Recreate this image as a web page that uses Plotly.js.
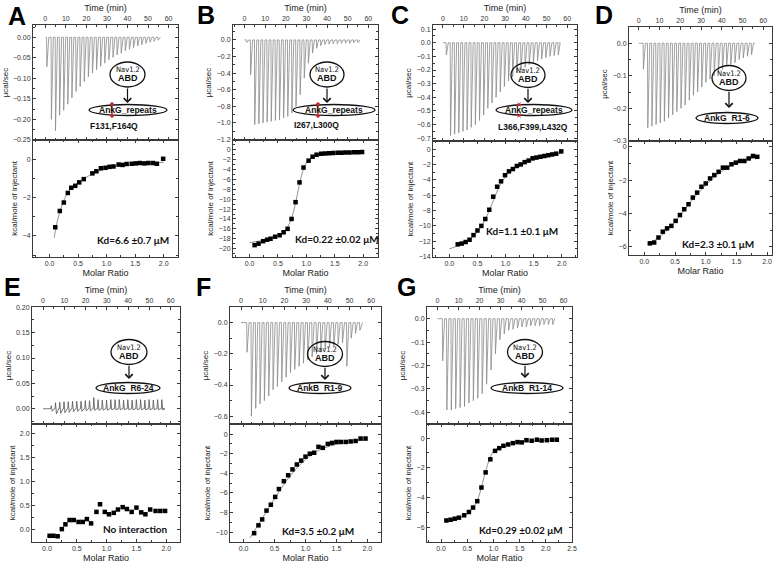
<!DOCTYPE html>
<html><head><meta charset="utf-8">
<script src="https://cdn.plot.ly/plotly-3.0.1.min.js"></script>
<style>body{margin:0;background:#fff}#p{width:777px;height:566px}</style>
</head><body><div id="p"></div>
<script>
// ---------------- DATA ----------------
// Raw ITC traces: injection times (min) and peak heights (µcal/sec)
const injTimeA=[0.6,2.8,4.8,6.8,8.8,10.8,12.8,14.8,16.8,18.8,20.8,22.8,24.8,26.8,28.8,30.8,32.8,34.8,36.8,38.8,40.8,42.8,44.8,46.8,48.8,50.8,52.8,54.8];
const peakA=[-0.072,-0.2,-0.228,-0.19,-0.178,-0.163,-0.148,-0.132,-0.12,-0.108,-0.096,-0.087,-0.079,-0.071,-0.063,-0.055,-0.049,-0.043,-0.039,-0.033,-0.029,-0.025,-0.021,-0.018,-0.015,-0.012,-0.01,-0.007];
const injTimeB=[1.0,2.8,4.8,6.8,8.8,10.8,12.8,14.8,16.8,18.8,20.8,22.8,24.8,26.8,28.8,30.8,32.8,34.8,36.8,38.8,40.8,42.8,44.8,46.8,48.8,50.8,52.8,54.8];
const peakB=[-0.03,-0.42,-1.02,-1.01,-1.0,-0.99,-0.98,-0.97,-0.96,-0.94,-0.92,-0.88,-0.8,-0.66,-0.46,-0.28,-0.16,-0.1,-0.07,-0.055,-0.05,-0.045,-0.045,-0.04,-0.04,-0.04,-0.035,-0.035];
const injTimeC=[1.5,3.5,5.5,7.5,9.5,11.5,13.5,15.5,17.5,19.5,21.5,23.5,25.5,27.5,29.5,31.5,33.5,35.5,37.5,39.5,41.5,43.5,45.5,47.5,49.5,51.5,53.5,55.5];
const peakC=[-0.09,-0.68,-0.67,-0.66,-0.65,-0.64,-0.62,-0.6,-0.57,-0.53,-0.48,-0.44,-0.4,-0.36,-0.32,-0.28,-0.25,-0.22,-0.2,-0.18,-0.16,-0.14,-0.13,-0.12,-0.11,-0.1,-0.095,-0.09];
const injTimeD=[2.1,4.2,6.2,8.2,10.2,12.2,14.2,16.2,18.2,20.2,22.2,24.2,26.2,28.2,30.2,32.2,34.2,36.2,38.2,40.2,42.2,44.2,46.2,48.2,50.2,52.2,54.2];
const peakD=[-0.08,-0.26,-0.255,-0.25,-0.245,-0.24,-0.23,-0.22,-0.21,-0.2,-0.19,-0.175,-0.16,-0.15,-0.135,-0.12,-0.11,-0.1,-0.09,-0.08,-0.07,-0.065,-0.06,-0.05,-0.045,-0.04,-0.035];
const injTimeE=[3.6,5.6,7.6,9.6,11.6,13.6,15.6,17.6,19.6,21.6,23.6,25.6,27.6,29.6,31.6,33.6,35.6,37.6,39.6,41.6,43.6,45.6,47.6,49.6,51.6,53.6,55.6];
const upE=[0.006,0.012,0.013,0.014,0.014,0.015,0.015,0.015,0.016,0.016,0.022,0.018,0.017,0.017,0.018,0.018,0.018,0.017,0.018,0.017,0.018,0.018,0.017,0.018,0.017,0.018,0.018];
const dipE=[-0.005,-0.01,-0.009,-0.008,-0.007,-0.006,-0.005,-0.005,-0.004,-0.004,-0.003,-0.003,-0.003,-0.003,-0.002,-0.002,-0.002,-0.002,-0.002,-0.002,-0.002,-0.002,-0.002,-0.002,-0.002,-0.002,-0.002];
const injTimeF=[2.6,4.6,6.6,8.6,10.6,12.6,14.6,16.6,18.6,20.6,22.6,24.6,26.6,28.6,30.6,32.6,34.6,36.6,38.6,40.6,42.6,44.6,46.6,48.6,50.6,52.6,54.6];
const peakF=[-0.19,-0.6,-0.55,-0.52,-0.5,-0.47,-0.43,-0.41,-0.38,-0.35,-0.32,-0.3,-0.28,-0.26,-0.24,-0.22,-0.2,-0.19,-0.17,-0.16,-0.15,-0.14,-0.13,-0.28,-0.1,-0.07,-0.05];
const injTimeG=[2.3,4.3,6.4,8.5,10.6,12.7,14.8,16.9,19.0,21.1,23.2,25.3,27.4,29.5,31.6,33.7,35.8,37.9,40.0,42.1,44.2,46.3,48.4,50.5,52.6,54.7];
const peakG=[-0.18,-0.39,-0.39,-0.385,-0.38,-0.375,-0.36,-0.35,-0.34,-0.32,-0.28,-0.22,-0.15,-0.09,-0.065,-0.05,-0.045,-0.04,-0.035,-0.035,-0.03,-0.03,-0.03,-0.025,-0.025,-0.025];

// Integrated isotherms (molar ratio, kcal/mole of injectant)
const ratioA=[0.10,0.18,0.25,0.32,0.38,0.45,0.52,0.60,0.75,0.82,0.90,0.98,1.05,1.12,1.21,1.28,1.35,1.44,1.51,1.58,1.66,1.73,1.81,1.88,1.99];
const heatA=[-3.55,-2.70,-2.26,-1.76,-1.49,-1.39,-1.21,-1.04,-0.74,-0.63,-0.47,-0.45,-0.40,-0.38,-0.28,-0.30,-0.25,-0.24,-0.22,-0.20,-0.22,-0.20,-0.20,-0.24,0.02];
const fitRatioA=[0.08,0.12,0.16,0.2,0.25,0.3,0.35,0.4,0.5,0.6,0.7,0.8,0.9,1.0,1.2,1.4,1.6,1.8,2.0];
const fitHeatA=[-4.1,-3.45,-2.95,-2.55,-2.15,-1.85,-1.62,-1.45,-1.2,-1.0,-0.85,-0.7,-0.58,-0.48,-0.36,-0.29,-0.24,-0.2,-0.17];

const ratioB=[0.09,0.16,0.24,0.31,0.37,0.45,0.53,0.60,0.67,0.74,0.81,0.88,0.95,1.04,1.11,1.18,1.26,1.33,1.40,1.47,1.55,1.62,1.69,1.76,1.84,1.91,1.98];
const heatB=[-19.3,-19.0,-18.5,-18.2,-18.0,-17.6,-17.3,-16.7,-16.0,-14.0,-10.6,-6.6,-3.6,-2.2,-1.4,-1.0,-0.8,-0.75,-0.7,-0.65,-0.6,-0.6,-0.55,-0.55,-0.5,-0.5,-0.45];
const fitRatioB=[0.0,0.1,0.2,0.3,0.4,0.5,0.6,0.65,0.7,0.75,0.8,0.85,0.9,0.95,1.0,1.05,1.1,1.2,1.3,1.5,1.7,2.0];
const fitHeatB=[-18.8,-18.6,-18.4,-18.1,-17.8,-17.4,-16.7,-16.0,-15.0,-13.5,-11.3,-8.6,-5.9,-3.9,-2.6,-1.9,-1.5,-1.05,-0.85,-0.68,-0.6,-0.52];

const ratioC=[0.15,0.22,0.29,0.36,0.43,0.50,0.57,0.64,0.71,0.78,0.85,0.92,0.99,1.06,1.13,1.20,1.27,1.34,1.41,1.48,1.55,1.62,1.69,1.76,1.83,1.90,1.99];
const heatC=[-12.4,-12.3,-12.1,-11.8,-11.2,-10.6,-10.0,-9.1,-7.9,-6.2,-4.9,-4.2,-3.4,-2.9,-2.6,-2.2,-2.0,-1.7,-1.5,-1.2,-1.1,-1.0,-0.9,-0.8,-0.7,-0.6,-0.3];
const fitRatioC=[0.0,0.15,0.3,0.45,0.55,0.65,0.72,0.8,0.88,0.95,1.05,1.15,1.3,1.5,1.7,1.85,2.0];
const fitHeatC=[-13.0,-12.6,-12.1,-11.2,-10.3,-9.0,-7.8,-6.4,-5.0,-4.1,-3.2,-2.6,-2.0,-1.45,-1.0,-0.75,-0.5];

const ratioD=[0.09,0.16,0.23,0.30,0.37,0.44,0.51,0.58,0.65,0.72,0.79,0.86,0.93,1.00,1.07,1.14,1.21,1.28,1.35,1.42,1.49,1.56,1.63,1.70,1.77,1.84];
const heatD=[-5.8,-5.75,-5.45,-5.1,-4.9,-4.75,-4.45,-4.1,-3.75,-3.45,-3.05,-2.75,-2.4,-2.2,-1.9,-1.7,-1.5,-1.25,-1.25,-1.05,-0.95,-0.85,-0.85,-0.7,-0.55,-0.6];
const fitRatioD=[0.05,0.2,0.35,0.5,0.65,0.8,0.95,1.1,1.25,1.4,1.55,1.7,1.85];
const fitHeatD=[-5.85,-5.55,-5.1,-4.5,-3.8,-3.1,-2.5,-1.95,-1.5,-1.15,-0.9,-0.72,-0.6];

const ratioE=[0.045,0.11,0.18,0.25,0.31,0.38,0.45,0.53,0.60,0.67,0.74,0.83,0.89,0.97,1.04,1.12,1.19,1.27,1.34,1.42,1.50,1.58,1.65,1.73,1.82,1.90,1.98];
const heatE=[-0.14,-0.14,-0.15,0.0,0.1,0.19,0.19,0.15,0.15,0.21,0.12,0.36,0.52,0.36,0.31,0.34,0.41,0.46,0.42,0.36,0.45,0.35,0.31,0.41,0.38,0.38,0.38];

const ratioF=[0.17,0.24,0.30,0.37,0.44,0.51,0.57,0.65,0.72,0.79,0.86,0.93,1.00,1.07,1.14,1.21,1.28,1.36,1.43,1.50,1.57,1.65,1.73,1.81,1.89,1.97];
const heatF=[-10.1,-9.3,-8.7,-7.8,-7.2,-6.4,-5.6,-4.8,-4.2,-3.6,-3.1,-2.7,-2.3,-2.0,-1.9,-1.3,-1.4,-1.0,-0.9,-0.8,-0.8,-0.8,-0.75,-0.7,-0.45,-0.45];
const fitRatioF=[0.1,0.2,0.3,0.4,0.5,0.6,0.7,0.8,0.9,1.0,1.1,1.2,1.4,1.6,1.8,2.0];
const fitHeatF=[-10.6,-9.6,-8.6,-7.6,-6.6,-5.6,-4.7,-3.9,-3.2,-2.6,-2.1,-1.7,-1.2,-0.9,-0.7,-0.6];

const ratioG=[0.10,0.18,0.26,0.34,0.44,0.53,0.61,0.69,0.77,0.85,0.94,1.03,1.11,1.19,1.28,1.37,1.46,1.54,1.63,1.73,1.83,1.92,2.02,2.12,2.21];
const heatG=[-5.55,-5.5,-5.43,-5.36,-5.2,-4.98,-4.68,-4.25,-3.33,-2.31,-1.43,-0.86,-0.68,-0.52,-0.43,-0.34,-0.27,-0.29,-0.14,-0.18,-0.11,-0.16,-0.14,-0.11,-0.11];
const fitRatioG=[0.08,0.2,0.35,0.5,0.6,0.68,0.74,0.8,0.86,0.92,0.98,1.05,1.15,1.3,1.5,1.8,2.22];
const fitHeatG=[-5.6,-5.55,-5.4,-5.1,-4.75,-4.3,-3.7,-2.9,-2.1,-1.45,-1.0,-0.75,-0.55,-0.4,-0.28,-0.18,-0.12];

// Labels
const panelLetters=['A','B','C','D','E','F','G'];
const kdLabels=['Kd=6.6 ±0.7 μM','Kd=0.22 ±0.02 μM','Kd=1.1 ±0.1 μM','Kd=2.3 ±0.1 μM','No interaction','Kd=3.5 ±0.2 μM','Kd=0.29 ±0.02 μM'];
const targetLabels=['AnkG_repeats','AnkG_repeats','AnkG_repeats','AnkG  R1-6','AnkG  R6-24','AnkB  R1-9','AnkB  R1-14'];
const mutLabels=['F131,F164Q','I267,L300Q','L366,F399,L432Q','','','',''];

// ---------------- LAYOUT / STYLE ----------------
const W=777,H=566;
const FONT='Liberation Sans, Arial, sans-serif';
const panels=[
 {box:[33,178,25,140,257],tR:[-6,64.6],mR:[-0.29,2.25],yT:[-0.2505,0.03],yB:[-5.1,1.0],dT:0.05,fT:'.2f',dB:2,fB:'d',
  t:injTimeA,p:peakA,t0:0,t1:56,iso:[ratioA,heatA],fit:[fitRatioA,fitHeatA],
  nav:[127.5,74.5,17.5,12.5],arr:[127.5,87,103],tgt:[128,110,39,5.5],mut:[114,126],kd:[133,240],letter:[17,16],red:'line',redX:112},
 {box:[233,378,25,140,257],tR:[-5.6,64.7],mR:[-0.29,2.26],yT:[-1.205,0.18],yB:[-21.7,1.98],dT:0.2,fT:'.1f',dB:2,fB:'d',
  t:injTimeB,p:peakB,t0:0,t1:56,iso:[ratioB,heatB],fit:[fitRatioB,fitHeatB],
  nav:[327,74.5,17,12.5],arr:[327,87,103],tgt:[334,110,41,5.5],mut:[316,125],kd:[337,239],letter:[206,15],red:'line',redX:318},
 {box:[433,577,25,141,257],tR:[-4.8,64.7],mR:[-0.29,2.27],yT:[-0.72,0.13],yB:[-14.05,1.05],dT:0.1,fT:'.1f',dB:2,fB:'d',
  t:injTimeC,p:peakC,t0:0,t1:56,iso:[ratioC,heatC],fit:[fitRatioC,fitHeatC],
  nav:[528,75,17,12.5],arr:[528,87.5,103],tgt:[534,110,38,5.5],mut:[533,127],kd:[522,231],letter:[400,15],red:'star',redX:519},
 {box:[629,772,27,141,255],tR:[-4.7,64.2],mR:[-0.25,2.08],yT:[-0.3005,0.05],yB:[-6.5,0.35],dT:0.1,fT:'.1f',dB:2,fB:'d',
  t:injTimeD,p:peakD,t0:0,t1:56,iso:[ratioD,heatD],fit:[fitRatioD,fitHeatD],
  nav:[729,78,17,12.5],arr:[729,90.5,108],tgt:[727,118,31,5.5],mut:null,kd:[718,244],letter:[604,15],red:null},
 {box:[32,180,307,424,542],tR:[-5.2,64.4],mR:[-0.25,2.23],yT:[-0.03,0.2005],yB:[-0.27,2.2],dT:0.05,fT:'.2f',dB:0.5,fB:'.1f',
  t:injTimeE,up:upE,dip:dipE,t0:0,t1:56,iso:[ratioE,heatE],fit:null,
  nav:[129,352,18,12.5],arr:[129,364.5,379],tgt:[128,388,32,5.5],mut:null,kd:[135,529],letter:[12,287],red:null},
 {box:[230,381,307,424,542],tR:[-5.1,64.5],mR:[-0.22,2.22],yT:[-0.65,0.1],yB:[-11,1.03],dT:0.2,fT:'.1f',dB:2,fB:'d',
  t:injTimeF,p:peakF,t0:0,t1:56,iso:[ratioF,heatF],fit:[fitRatioF,fitHeatF],
  nav:[325,354,17.5,12.5],arr:[325,366.5,380],tgt:[320,388,31,5.5],mut:null,kd:[318,531],letter:[204,287],red:null},
 {box:[427,572,307,424,542],tR:[-5,64],mR:[-0.27,2.5],yT:[-0.45,0.05],yB:[-7,0.95],dT:0.1,fT:'.1f',dB:2,fB:'d',
  t:injTimeG,p:peakG,t0:0,t1:56,iso:[ratioG,heatG],fit:[fitRatioG,fitHeatG],
  nav:[525,352,17.5,12.5],arr:[525,364.5,378],tgt:[527,388,36,5.5],mut:null,kd:[521,530],letter:[406,287],red:null}
];

const layout={width:W,height:H,margin:{l:0,r:0,t:0,b:0},showlegend:false,
  paper_bgcolor:'#fff',plot_bgcolor:'#fff',font:{family:FONT,color:'#333',size:7},
  shapes:[],annotations:[]};
const traces=[];
const LC='#3a3a3a';
const common={showline:true,linecolor:LC,linewidth:1,mirror:'ticks',ticks:'inside',ticklen:3,tickwidth:1,
  tickcolor:LC,showgrid:false,zeroline:false,tickfont:{size:7,color:'#333',family:FONT}};
const an=n=>n===1?'':String(n);

function ell(cx,cy,rx,ry,color,width,fill){
  layout.shapes.push({type:'circle',xref:'paper',yref:'paper',x0:(cx-rx)/W,x1:(cx+rx)/W,
    y0:1-(cy+ry)/H,y1:1-(cy-ry)/H,line:{color:color||'#111',width:width||1.3},fillcolor:fill||'rgba(0,0,0,0)'});
}
function seg(x0,y0,x1,y1,color,width){
  layout.shapes.push({type:'line',xref:'paper',yref:'paper',x0:x0/W,x1:x1/W,y0:1-y0/H,y1:1-y1/H,line:{color,width}});
}
function txt(x,y,text,size,opts){
  layout.annotations.push(Object.assign({xref:'paper',yref:'paper',x:x/W,y:1-y/H,text,showarrow:false,
    xanchor:'center',yanchor:'middle',font:{size,color:'#111',family:FONT}},opts||{}));
}

panels.forEach((p,i)=>{
  const nT=2*i+1,nB=2*i+2;
  const [l,r,top,mid,bot]=p.box;
  layout['xaxis'+an(nT)]=Object.assign({},common,{domain:[l/W,r/W],anchor:'y'+an(nT),side:'top',range:p.tR,dtick:10,tick0:0,
    minor:{ticks:'inside',ticklen:2,dtick:5,tickcolor:LC},title:{text:'Time (min)',font:{size:9,color:'#222'},standoff:2}});
  layout['yaxis'+an(nT)]=Object.assign({},common,{domain:[1-mid/H,1-top/H],anchor:'x'+an(nT),range:p.yT,dtick:p.dT,tick0:0,tickformat:p.fT,
    minor:{ticks:'inside',ticklen:2,dtick:p.dT/2,tickcolor:LC},title:{text:'μcal/sec',font:{size:8,color:'#222'},standoff:3}});
  layout['xaxis'+an(nB)]=Object.assign({},common,{domain:[l/W,r/W],anchor:'y'+an(nB),range:p.mR,dtick:0.5,tick0:0,tickformat:'.1f',
    minor:{ticks:'inside',ticklen:2,dtick:0.25,tickcolor:LC},title:{text:'Molar Ratio',font:{size:9,color:'#222'},standoff:3}});
  layout['yaxis'+an(nB)]=Object.assign({},common,{domain:[1-bot/H,1-mid/H],anchor:'x'+an(nB),range:p.yB,dtick:p.dB,tick0:0,tickformat:p.fB,
    minor:{ticks:'inside',ticklen:2,dtick:p.dB/2,tickcolor:LC},title:{text:'kcal/mole of injectant',font:{size:8,color:'#222'},standoff:3}});

  // raw trace built from injection times and peak heights
  const x=[p.t0],y=[0];
  p.t.forEach((t,k)=>{
    if(p.up){ x.push(t,t+0.25,t+0.7,t+1.7); y.push(0,p.up[k],p.dip[k],0); }
    else { x.push(t,t+0.15,t+1.1); y.push(0,p.p[k],0); }
  });
  x.push(p.t1); y.push(0);
  traces.push({x,y,xaxis:'x'+an(nT),yaxis:'y'+an(nT),mode:'lines',line:{color:p.up?'#555':'#8a8a8a',width:0.8},hoverinfo:'skip'});
  if(p.fit) traces.push({x:p.fit[0],y:p.fit[1],xaxis:'x'+an(nB),yaxis:'y'+an(nB),mode:'lines',line:{color:'#777',width:0.8,shape:'spline'}});
  traces.push({x:p.iso[0],y:p.iso[1],xaxis:'x'+an(nB),yaxis:'y'+an(nB),mode:'markers',marker:{symbol:'square',size:4.5,color:'#000'}});

  txt(p.letter[0],p.letter[1],'<b>'+panelLetters[i]+'</b>',25,{font:{size:25,color:'#000',family:FONT}});
  txt(p.kd[0],p.kd[1],'<b>'+kdLabels[i]+'</b>',10,{font:{size:10,color:'#111',family:'Lato, Open Sans, sans-serif'}});
  const [ncx,ncy,nrx,nry]=p.nav;
  ell(ncx,ncy,nrx,nry,'#111',1.3);
  txt(ncx,ncy-5,'Nav1.2',7.5,{font:{size:7.5,color:'#111',family:'DejaVu Sans Condensed, Liberation Sans Narrow, Arial'}});
  txt(ncx,ncy+4,'<b>ABD</b>',9);
  const [ax,ay1,ay2]=p.arr;
  layout.annotations.push({xref:'paper',yref:'paper',x:ax/W,y:1-ay2/H,ax:0,ay:-(ay2-ay1),text:'',showarrow:true,
    arrowhead:4,arrowsize:1.2,arrowwidth:1.2,arrowcolor:'#111'});
  const [tcx,tcy,trx,try_]=p.tgt;
  ell(tcx,tcy,trx,try_,'#111',1.3);
  txt(tcx,tcy,'<b>'+targetLabels[i]+'</b>',8.5);
  if(p.mut) txt(p.mut[0],p.mut[1],'<b>'+mutLabels[i]+'</b>',8.5);
  if(p.red==='line'){
    seg(p.redX,tcy-6,p.redX,tcy+6,'#d02030',1.3);
    ell(p.redX,tcy-6,1.3,1.3,'#d02030',1,'#d02030');
    ell(p.redX,tcy+6,1.3,1.3,'#d02030',1,'#d02030');
  } else if(p.red==='star'){
    // small red asterisks drawn as shapes at the ellipse edge (mutation marks)
    [tcy-5.5,tcy+5.5].forEach(sy=>{
      seg(p.redX-2.2,sy,p.redX+2.2,sy,'#d02030',1);
      seg(p.redX-1.5,sy-2,p.redX+1.5,sy+2,'#d02030',1);
      seg(p.redX-1.5,sy+2,p.redX+1.5,sy-2,'#d02030',1);
    });
  }
});

Plotly.newPlot('p',traces,layout,{staticPlot:true,displayModeBar:false});
</script></body></html>
